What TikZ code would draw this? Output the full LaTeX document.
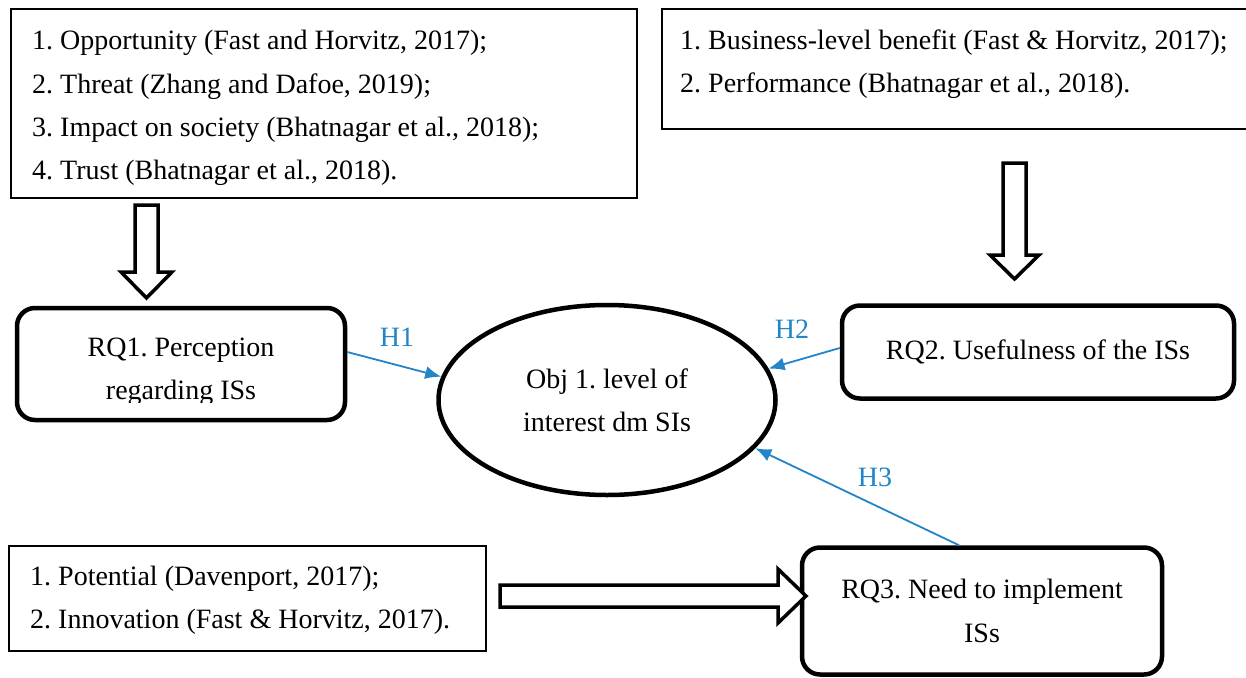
\documentclass[tikz,border=0pt]{standalone}
\usepackage{fontspec}
\setmainfont{Liberation Serif}
\usetikzlibrary{arrows.meta,shapes.geometric}
\definecolor{hblue}{RGB}{33,133,200}
\frenchspacing
\begin{document}
\begin{tikzpicture}[x=1pt,y=-1pt,
  txt/.style={font=\fontsize{28}{43.3}\selectfont, inner sep=0pt},
  litbox/.style={draw, line width=2pt, anchor=north west, inner sep=0pt},
  rqbox/.style={draw, line width=4.5pt, rounded corners=18pt, txt, align=center},
  hollow/.style={draw, line width=3.5pt, fill=white, line join=miter},
  harrow/.style={draw=hblue, line width=1.8pt, -{Latex[length=16pt,width=13pt]}},
  hlabel/.style={txt, text=hblue}
]
\useasboundingbox (0,0) rectangle (1246,677);
\fill[white] (0,0) rectangle (1246,677);

% literature boxes
\node[litbox, minimum width=626pt, minimum height=189pt] (lit1) at (10,8) {};
\node[txt, anchor=west, align=left] (lit1t) at (32,108) {1. Opportunity (Fast and Horvitz, 2017);\\2. Threat (Zhang and Dafoe, 2019);\\3. Impact on society (Bhatnagar et al., 2018);\\4. Trust (Bhatnagar et al., 2018).};

\node[litbox, minimum width=600pt, minimum height=120pt] (lit2) at (661,8) {};
\node[txt, anchor=west, align=left] (lit2t) at (680,64) {1. Business-level benefit (Fast \& Horvitz, 2017);\\2. Performance (Bhatnagar et al., 2018).};

\node[litbox, minimum width=477pt, minimum height=105pt] (lit3) at (8,545) {};
\node[txt, anchor=west, align=left] (lit3t) at (30,600) {1. Potential (Davenport, 2017);\\2. Innovation (Fast \& Horvitz, 2017).};

% research question boxes
\node[rqbox, minimum width=328pt, minimum height=112pt] (rq1) at (181,364) {};
\begin{scope}
\clip (20,300) rectangle (343,402);
\node[txt, align=center] (rq1t) at (181,372) {RQ1. Perception\\regarding ISs};
\end{scope}
\node[rqbox, minimum width=392pt, minimum height=93pt] (rq2) at (1038,352) {RQ2. Usefulness of the ISs};
\node[rqbox, minimum width=360pt, minimum height=127pt] (rq3) at (982,611) {RQ3. Need to implement\\ISs};

% objective
\node[ellipse, draw, line width=4.5pt, minimum width=337pt, minimum height=190pt, txt, align=center] (obj) at (607,400) {Obj 1. level of\\interest dm SIs};

% hollow block arrows
\draw[hollow] (135,205) -- (158,205) -- (158,272) -- (172,272) -- (146.5,298) -- (121,272) -- (135,272) -- cycle;
\draw[hollow] (1003,163) -- (1026,163) -- (1026,255) -- (1039,255) -- (1014.5,279) -- (990,255) -- (1003,255) -- cycle;
\draw[hollow] (500,585) -- (778,585) -- (778,569) -- (806,596) -- (778,623) -- (778,607) -- (500,607) -- cycle;

% hypotheses
\draw[harrow] ([yshift=12pt]rq1.east) -- (obj.172);
\draw[harrow] ([yshift=4pt]rq2.west) -- (obj.11);
\draw[harrow] ([xshift=-23pt]rq3.north) -- (obj.-18);
\node[hlabel] (h1) at (397,337) {H1};
\node[hlabel] (h2) at (792,329) {H2};
\node[hlabel] (h3) at (875,477) {H3};
\end{tikzpicture}
\end{document}
